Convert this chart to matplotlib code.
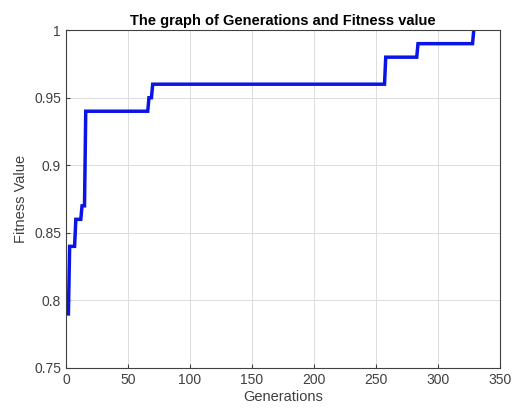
import matplotlib
matplotlib.use("Agg")
import matplotlib.pyplot as plt

# Change points (generation where new best fitness appears) and fitness values
generations = [1, 3, 8, 13, 16, 67, 70, 258, 284, 329]
fitness = [0.79, 0.84, 0.86, 0.87, 0.94, 0.95, 0.96, 0.98, 0.99, 1.00]

xticks = [0, 50, 100, 150, 200, 250, 300, 350]
yticks = [0.75, 0.8, 0.85, 0.9, 0.95, 1.0]
ytick_labels = ["0.75", "0.8", "0.85", "0.9", "0.95", "1"]

plt.rcParams['font.family'] = ['Liberation Sans', 'DejaVu Sans']

# Per-generation best-so-far curve: value changes over one generation
xs = [generations[0]]
ys = [fitness[0]]
for i in range(1, len(generations)):
    if generations[i] - 1 > xs[-1]:
        xs.append(generations[i] - 1)
        ys.append(fitness[i - 1])
    xs.append(generations[i])
    ys.append(fitness[i])

fig = plt.figure(figsize=(5.19, 4.13), dpi=100)
ax = fig.add_axes([0.127, 0.109, 0.836, 0.818])

ax.plot(xs, ys, color='#0a14e6', linewidth=2.5, solid_joinstyle='miter')

ax.set_xlim(0, 350)
ax.set_ylim(0.75, 1.0)
ax.set_xticks(xticks)
ax.set_yticks(yticks)
ax.set_yticklabels(ytick_labels)
ax.grid(True, color='#dcdcdc', linewidth=0.7)
ax.set_axisbelow(True)
ax.tick_params(direction='in', length=3, colors='#404040', labelsize=10, labelcolor='#404040')
for s in ax.spines.values():
    s.set_color('#404040')
    s.set_linewidth(0.8)

ax.set_title('The graph of Generations and Fitness value', fontsize=10.5, fontweight='bold', pad=4)
ax.set_xlabel('Generations', fontsize=10.5, color='#404040', labelpad=2)
ax.set_ylabel('Fitness Value', fontsize=10.5, color='#404040', labelpad=4)

fig.savefig('out.png', dpi=100)
